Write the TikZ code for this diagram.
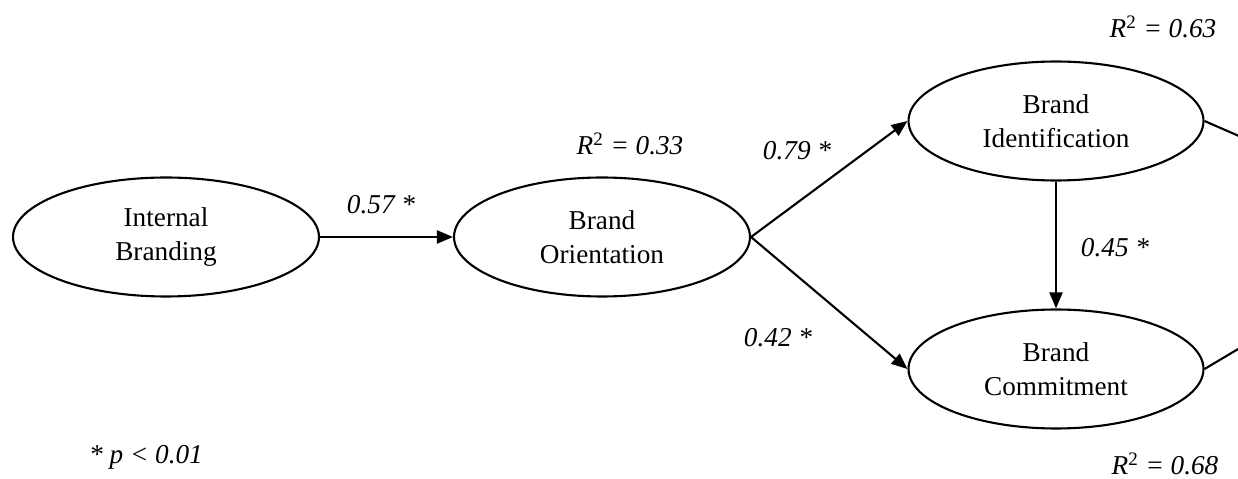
\documentclass[tikz,border=0pt]{standalone}
\usepackage{fontspec}
\setmainfont{Liberation Serif}
\usepackage{tikz}
\usetikzlibrary{shapes.geometric, arrows.meta}

\begin{document}
\begin{tikzpicture}[
    x=0.02cm, y=-0.02cm,
    construct/.style={ellipse, draw, line width=1.2pt, minimum width=#1, minimum height=2.38cm, inner sep=0pt, align=center, font=\fontsize{15.5}{19.2}\selectfont},
    coef/.style={font=\fontsize{15.5}{18.6}\selectfont\itshape},
    arrow/.style={-{Triangle[length=3.2mm, width=2.6mm]}, line width=1.2pt},
    path/.style={line width=1.2pt},
]
\clip (0,0) rectangle (1238,479);

% Constructs
\node[construct=6.12cm] (ib) at (166,237) {Internal\\Branding};
\node[construct=5.92cm] (bo) at (602,237) {Brand\\Orientation};
\node[construct=5.9cm] (bi) at (1056,121) {Brand\\Identification};
\node[construct=5.9cm] (bc) at (1056,369) {Brand\\Commitment};

% Outcome beyond the right edge
\coordinate (out) at (1445,226);

% Path coefficients
\node[coef] (c1) at (381,205) {0.57 *};
\node[coef] (c2) at (797,151) {0.79 *};
\node[coef] (c3) at (778,338) {0.42 *};
\node[coef] (c4) at (1115,248) {0.45 *};

% Explained variance
\node[coef] (r1) at (630,144) {R\textsuperscript{\upshape 2} = 0.33};
\node[coef] (r2) at (1163,27) {R\textsuperscript{\upshape 2} = 0.63};
\node[coef] (r3) at (1165,464) {R\textsuperscript{\upshape 2} = 0.68};

% Note
\node[coef] (note) at (146,457) {* p < 0.01};

\draw[arrow] (ib) -- (bo);
\draw[arrow] (bo.east) -- (bi.west);
\draw[arrow] (bo.east) -- (bc.west);
\draw[arrow] (bi) -- (bc);
\draw[path] (bi.east) -- (out);
\draw[path] (bc.east) -- (out);

\end{tikzpicture}
\end{document}
